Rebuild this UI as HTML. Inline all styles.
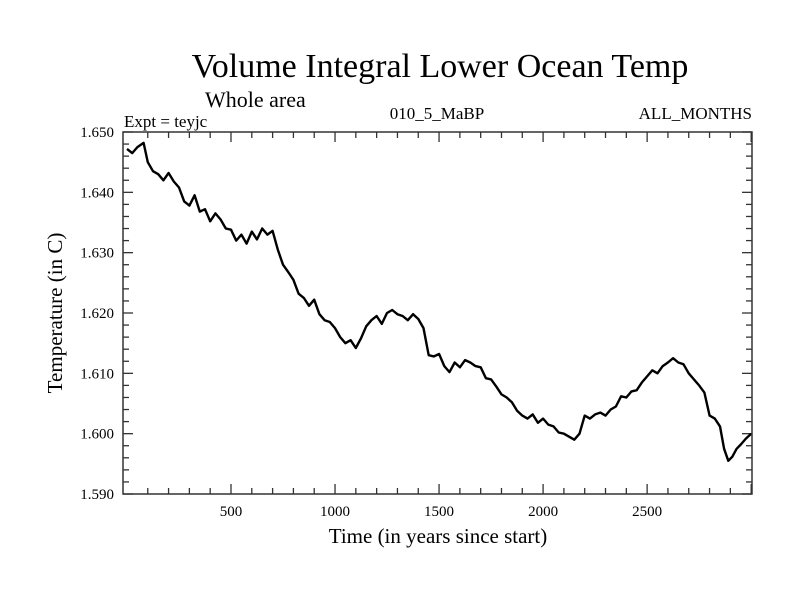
<!DOCTYPE html>
<html><head><meta charset="utf-8"><style>
body{margin:0;background:#fff}
svg text{font-family:"Liberation Serif",serif;fill:#000}
</style></head><body>
<svg width="800" height="600">
<text x="440" y="77" font-size="34" text-anchor="middle">Volume Integral Lower Ocean Temp</text>
<text x="205" y="107" font-size="22">Whole area</text>
<text x="124" y="127" font-size="17">Expt = teyjc</text>
<text x="437" y="119" font-size="17" text-anchor="middle">010_5_MaBP</text>
<text x="752" y="119" font-size="17" text-anchor="end">ALL_MONTHS</text>
<text x="438" y="543" font-size="21" text-anchor="middle">Time (in years since start)</text>
<text transform="translate(62,313) rotate(-90)" font-size="21" text-anchor="middle">Temperature (in C)</text>
<g id="axes"></g>
<path id="series" fill="none" stroke="#000" stroke-width="2.4" stroke-linejoin="round"/>
<rect x="123" y="132" width="629" height="362" fill="none" stroke="#333" stroke-width="1.5"/>
</svg>
<script>
const years=[0,25,50,80,100,125,150,175,200,225,250,275,300,325,350,375,400,425,450,475,500,525,550,575,600,625,650,675,700,725,750,775,800,825,850,875,900,925,950,975,1000,1025,1050,1075,1100,1125,1150,1175,1200,1225,1250,1275,1300,1325,1350,1375,1400,1425,1450,1475,1500,1525,1550,1575,1600,1625,1650,1675,1700,1725,1750,1775,1800,1825,1850,1875,1900,1925,1950,1975,2000,2025,2050,2075,2100,2125,2150,2175,2200,2225,2250,2275,2300,2325,2350,2375,2400,2425,2450,2475,2500,2525,2550,2575,2600,2625,2650,2675,2700,2725,2750,2775,2800,2825,2850,2870,2890,2910,2930,2950,2975,3000];
const temps=[1.6472,1.6465,1.6475,1.6482,1.6450,1.6435,1.6430,1.6420,1.6432,1.6418,1.6408,1.6385,1.6378,1.6395,1.6368,1.6372,1.6352,1.6365,1.6355,1.6340,1.6338,1.6320,1.6330,1.6315,1.6335,1.6322,1.6340,1.6330,1.6336,1.6305,1.6280,1.6268,1.6255,1.6232,1.6225,1.6212,1.6222,1.6198,1.6188,1.6185,1.6175,1.6160,1.6150,1.6155,1.6142,1.6158,1.6178,1.6188,1.6195,1.6182,1.6200,1.6205,1.6198,1.6195,1.6188,1.6198,1.6190,1.6175,1.6130,1.6128,1.6132,1.6112,1.6102,1.6118,1.6110,1.6122,1.6118,1.6112,1.6110,1.6092,1.6090,1.6078,1.6065,1.6060,1.6052,1.6038,1.6030,1.6025,1.6032,1.6018,1.6025,1.6015,1.6012,1.6002,1.6000,1.5995,1.5990,1.6000,1.6030,1.6025,1.6032,1.6035,1.6030,1.6040,1.6045,1.6062,1.6060,1.6070,1.6072,1.6085,1.6095,1.6105,1.6100,1.6112,1.6118,1.6125,1.6118,1.6115,1.6100,1.6090,1.6080,1.6068,1.6030,1.6025,1.6012,1.5975,1.5955,1.5962,1.5975,1.5982,1.5992,1.6000];
const xTicks=[500,1000,1500,2000,2500];
const yTicks=[1.590,1.600,1.610,1.620,1.630,1.640,1.650];
const L=123,R=752,T=132,B=494,X0=-19,X1=3004,Y0=1.590,Y1=1.650;
const sx=v=>L+(v-X0)/(X1-X0)*(R-L);
const sy=v=>B-(v-Y0)/(Y1-Y0)*(B-T);
const NS='http://www.w3.org/2000/svg';
const ax=document.getElementById('axes');
function line(x1,y1,x2,y2,n){const l=document.createElementNS(NS,'line');
l.setAttribute('x1',x1);l.setAttribute('y1',y1);l.setAttribute('x2',x2);l.setAttribute('y2',y2);
l.setAttribute('stroke','#333');l.setAttribute('stroke-width','1.3');


ax.appendChild(l);}
function txt(x,y,s,a,n){const t=document.createElementNS(NS,'text');
t.setAttribute('x',x);t.setAttribute('y',y);t.setAttribute('font-size','15');t.setAttribute('text-anchor',a);t.textContent=s;


ax.appendChild(t);}
for(let v=100;v<X1;v+=100){const major=v%500===0;const x=sx(v),len=major?10:6;
line(x,B,x,B-len,'x-tick');line(x,T,x,T+len,'x-tick');}
xTicks.forEach(v=>txt(sx(v),516,String(v),'middle','x-tick-label'));
for(let i=0;i<=30;i++){const v=Y0+i*0.002;const y=sy(v),major=i%5===0,len=major?10:6;
line(L,y,L+len,y,'y-tick');line(R,y,R-len,y,'y-tick');}
yTicks.forEach(v=>txt(114,sy(v)+5,v.toFixed(3),'end','y-tick-label'));
let d='';years.forEach((y,i)=>{d+=(i?'L':'M')+sx(y).toFixed(1)+','+sy(temps[i]).toFixed(1);});
document.getElementById('series').setAttribute('d',d);
</script>
</body></html>
